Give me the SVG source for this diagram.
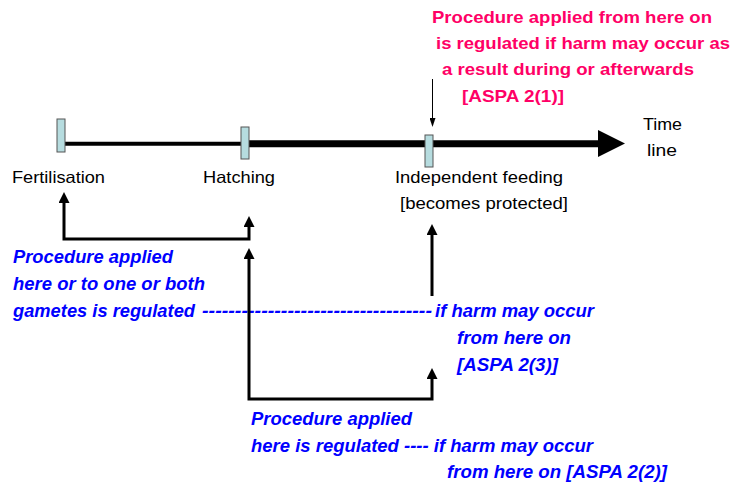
<svg xmlns="http://www.w3.org/2000/svg" width="734" height="484" viewBox="0 0 734 484">
<style>
.lbl{font-family:"Liberation Sans",Arial,sans-serif;font-size:16.5px;fill:#000}
.red{font-family:"Liberation Sans",Arial,sans-serif;font-size:16.5px;font-weight:bold;fill:#ff0066}
.blue{font-family:"Liberation Sans",Arial,sans-serif;font-size:17.5px;font-weight:bold;font-style:italic;fill:#0000ff}
.tick{fill:#b6dcdf;stroke:#555;stroke-width:1}
.conn{fill:none;stroke:#000;stroke-width:3}
</style>
<defs>
<marker id="ah" viewBox="0 0 10 10" refX="0" refY="5" markerWidth="11" markerHeight="11" markerUnits="userSpaceOnUse" orient="auto-start-reverse" preserveAspectRatio="none">
<path d="M0,0 L10,5 L0,10 z" fill="#000"/>
</marker>
<marker id="sm" viewBox="0 0 9 6" refX="0" refY="3" markerWidth="9" markerHeight="6" markerUnits="userSpaceOnUse" orient="auto" preserveAspectRatio="none">
<path d="M0,0 L9,3 L0,6 z" fill="#000"/>
</marker>
</defs>
<rect width="734" height="484" fill="#fff"/>

<g id="timeline">
<line x1="65" y1="143.7" x2="241" y2="143.7" stroke="#000" stroke-width="4"/>
<line x1="249" y1="143.7" x2="599" y2="143.7" stroke="#000" stroke-width="7"/>
<polygon points="598,130 625,143.5 598,157" fill="#000"/>
<text class="lbl" x="643" y="130" textLength="39" lengthAdjust="spacingAndGlyphs">Time</text>
<text class="lbl" x="647" y="156" textLength="30" lengthAdjust="spacingAndGlyphs">line</text>
</g>

<g id="fertilisation">
<rect class="tick" x="57" y="119" width="8" height="33"/>
<text class="lbl" x="12" y="183" textLength="93" lengthAdjust="spacingAndGlyphs">Fertilisation</text>
</g>

<g id="hatching">
<rect class="tick" x="241" y="127" width="8" height="32"/>
<text class="lbl" x="203" y="183" textLength="72" lengthAdjust="spacingAndGlyphs">Hatching</text>
</g>

<g id="independent-feeding">
<rect class="tick" x="425" y="135" width="8" height="32"/>
<text class="lbl" x="395" y="183" textLength="168" lengthAdjust="spacingAndGlyphs">Independent feeding</text>
<text class="lbl" x="400" y="209" textLength="168" lengthAdjust="spacingAndGlyphs">[becomes protected]</text>
</g>

<g id="note-aspa-2-1">
<text class="red" x="432" y="23" textLength="280" lengthAdjust="spacingAndGlyphs">Procedure applied from here on</text>
<text class="red" x="436" y="49" textLength="294" lengthAdjust="spacingAndGlyphs">is regulated if harm may occur as</text>
<text class="red" x="442" y="75" textLength="252" lengthAdjust="spacingAndGlyphs">a result during or afterwards</text>
<text class="red" x="462" y="102" textLength="102" lengthAdjust="spacingAndGlyphs">[ASPA 2(1)]</text>
</g>

<g id="note-aspa-2-3">
<text class="blue" x="13" y="263" textLength="160" lengthAdjust="spacingAndGlyphs">Procedure applied</text>
<text class="blue" x="13" y="290" textLength="192" lengthAdjust="spacingAndGlyphs">here or to one or both</text>
<text class="blue" x="13" y="317" textLength="182" lengthAdjust="spacingAndGlyphs">gametes is regulated</text>
<text class="blue" x="202" y="317" textLength="230" lengthAdjust="spacingAndGlyphs">-----------------------------------</text>
<text class="blue" x="435" y="317" textLength="159" lengthAdjust="spacingAndGlyphs">if harm may occur</text>
<text class="blue" x="457" y="344" textLength="114" lengthAdjust="spacingAndGlyphs">from here on</text>
<text class="blue" x="457" y="371" textLength="101" lengthAdjust="spacingAndGlyphs">[ASPA 2(3)]</text>
</g>

<g id="note-aspa-2-2">
<text class="blue" x="251" y="425" textLength="161" lengthAdjust="spacingAndGlyphs">Procedure applied</text>
<text class="blue" x="251" y="452" textLength="342" lengthAdjust="spacingAndGlyphs">here is regulated ---- if harm may occur</text>
<text class="blue" x="447" y="478" textLength="220" lengthAdjust="spacingAndGlyphs">from here on [ASPA 2(2)]</text>
</g>

<g id="connectors">
<path class="conn" d="M64,203 L64,239 L249,239 L249,227" marker-start="url(#ah)" marker-end="url(#ah)"/>
<path class="conn" d="M249,259 L249,399 L432,399 L432,379" marker-start="url(#ah)" marker-end="url(#ah)"/>
<path class="conn" d="M432,296 L432,235" marker-end="url(#ah)"/>
<path d="M432.5,79 L432.5,118" fill="none" stroke="#000" stroke-width="1" marker-end="url(#sm)"/>
</g>
</svg>
